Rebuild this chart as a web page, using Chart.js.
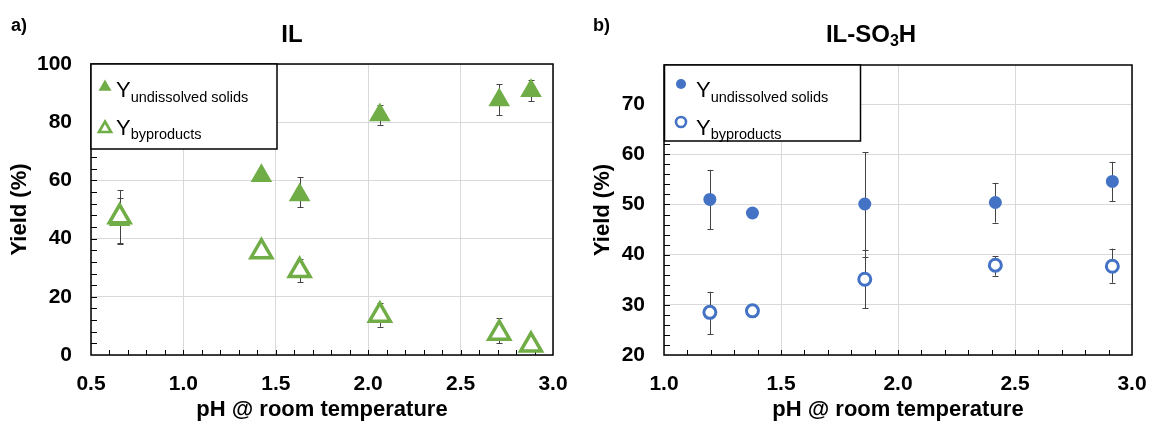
<!DOCTYPE html>
<html>
<head>
<meta charset="utf-8">
<script src="https://cdn.jsdelivr.net/npm/chart.js@4"></script>
<style>
body { margin: 0; background: #fff; }
#wrap { position: relative; width: 1149px; height: 422px; }
canvas { position: absolute; top: 0; }
</style>
</head>
<body>
<div id="wrap">
  <canvas id="chartA" width="575" height="422" style="left:0"></canvas>
  <canvas id="chartB" width="574" height="422" style="left:575px"></canvas>
</div>
<script>
// a) IL
var phIL = [0.655, 1.422, 1.629, 2.063, 2.709, 2.881];
var solidsIL = [46.5, 61.6, 55.0, 82.5, 87.6, 90.8];
var solidsILLow = [38.3, 61.6, 50.8, 79.1, 82.5, 87.3];
var solidsILHigh = [53.8, 61.6, 61.1, 85.9, 93.1, 94.5];
var byprodIL = [47.5, 35.5, 29.0, 13.7, 7.5, 3.4];
var byprodILLow = [38.6, 35.5, 25.0, 9.7, 4.0, 3.4];
var byprodILHigh = [56.7, 35.5, 33.0, 18.0, 12.6, 3.4];

// b) IL-SO3H
var phSO3H = [1.196, 1.378, 1.858, 2.416, 2.916];
var solidsSO3H = [51.0, 48.3, 50.1, 50.4, 54.6];
var solidsSO3HLow = [45.1, 48.3, 39.6, 46.4, 50.6];
var solidsSO3HHigh = [56.9, 48.3, 60.4, 54.3, 58.5];
var byprodSO3H = [28.5, 28.8, 35.1, 37.9, 37.7];
var byprodSO3HLow = [24.1, 28.8, 29.3, 35.8, 34.4];
var byprodSO3HHigh = [32.6, 28.8, 41.0, 39.7, 41.2];

var xTicksIL = [0.5, 3.0];
var yTicksIL = [0, 100];
var xTicksSO3H = [1.0, 3.0];
var yTicksSO3H = [20, 77.8];

var green = '#70ad47';
var blue = '#4472c4';
var FONT = '"Liberation Sans", Arial, sans-serif';

Chart.defaults.color = '#000';
Chart.defaults.font.family = FONT;

function pts(xs, ys) {
  return xs.map(function (x, i) { return { x: x, y: ys[i] }; });
}

function triangle(ctx, x, y, r) {
  ctx.beginPath();
  ctx.moveTo(x, y - r);
  ctx.lineTo(x + 0.866 * r, y + r / 2);
  ctx.lineTo(x - 0.866 * r, y + r / 2);
  ctx.closePath();
}

function drawSub(ctx, x, y, big, sub, bigFont, subFont, drop) {
  ctx.font = bigFont;
  ctx.fillText(big, x, y);
  var w = ctx.measureText(big).width;
  ctx.font = subFont;
  ctx.fillText(sub, x + w, y + drop);
}

var extras = {
  id: 'extras',
  beforeDatasetsDraw: function (chart, args, o) {
    var ctx = chart.ctx, a = chart.chartArea;
    var xs = chart.scales.x, ys = chart.scales.y;
    ctx.save();
    // error bars
    ctx.strokeStyle = '#444';
    ctx.lineWidth = 1;
    o.errors.forEach(function (e, di) {
      var d = chart.data.datasets[di].data;
      d.forEach(function (p, j) {
        if (e.high[j] - e.low[j] < 0.01) return;
        var px = Math.round(xs.getPixelForValue(p.x)) + 0.5;
        var y1 = ys.getPixelForValue(e.low[j]);
        var y2 = ys.getPixelForValue(e.high[j]);
        ctx.beginPath();
        ctx.moveTo(px, y1); ctx.lineTo(px, y2);
        ctx.moveTo(px - 3, Math.round(y1) + 0.5); ctx.lineTo(px + 3, Math.round(y1) + 0.5);
        ctx.moveTo(px - 3, Math.round(y2) + 0.5); ctx.lineTo(px + 3, Math.round(y2) + 0.5);
        ctx.stroke();
      });
    });
    // minor ticks
    ctx.strokeStyle = '#000';
    ctx.beginPath();
    var n = Math.round((xs.max - xs.min) / o.xMinor);
    for (var i = 1; i < n; i++) {
      var px = Math.round(xs.getPixelForValue(xs.min + i * o.xMinor)) + 0.5;
      ctx.moveTo(px, a.bottom); ctx.lineTo(px, a.bottom - 5);
    }
    var m = Math.floor((ys.max - ys.min) / o.yMinor + 0.001);
    for (var k = 1; k <= m; k++) {
      var py = Math.round(ys.getPixelForValue(ys.min + k * o.yMinor)) + 0.5;
      if (py <= a.top + 1) continue;
      ctx.moveTo(a.left, py); ctx.lineTo(a.left + 6, py);
    }
    ctx.stroke();
    // plot frame
    ctx.lineWidth = 1.5;
    ctx.strokeStyle = '#000';
    ctx.strokeRect(a.left, a.top, a.right - a.left, a.bottom - a.top);
    ctx.restore();
  },
  afterDraw: function (chart, args, o) {
    var ctx = chart.ctx;
    ctx.save();
    ctx.fillStyle = '#000';
    ctx.textBaseline = 'alphabetic';
    // panel letter
    ctx.font = 'bold 18px ' + FONT;
    ctx.textAlign = 'left';
    ctx.fillText(o.letter, o.letterX, 31);
    // title
    var big = 'bold 24px ' + FONT, small = 'bold 16px ' + FONT;
    var parts = o.title;
    var widths = parts.map(function (p) {
      ctx.font = p.sub ? small : big;
      return ctx.measureText(p.t).width;
    });
    var total = widths.reduce(function (s, w) { return s + w; }, 0);
    var tx = o.titleX - total / 2;
    parts.forEach(function (p, i) {
      ctx.font = p.sub ? small : big;
      ctx.fillText(p.t, tx, p.sub ? 46 : 42);
      tx += widths[i];
    });
    // legend box
    var L = o.legend;
    ctx.fillStyle = '#fff';
    ctx.fillRect(L.x, L.y, L.w, L.h);
    ctx.lineWidth = 1.5;
    ctx.strokeStyle = '#000';
    ctx.strokeRect(L.x, L.y, L.w, L.h);
    var col = L.color;
    if (L.shape === 'triangle') {
      triangle(ctx, L.mx, L.r1 + 1, 7.5);
      ctx.fillStyle = col; ctx.fill();
      triangle(ctx, L.mx, L.r2 + 1.5, 7);
      ctx.lineWidth = 2.6; ctx.strokeStyle = col; ctx.stroke();
    } else {
      ctx.beginPath(); ctx.arc(L.mx, L.r1, 5, 0, Math.PI * 2);
      ctx.fillStyle = col; ctx.fill();
      ctx.beginPath(); ctx.arc(L.mx, L.r2, 5, 0, Math.PI * 2);
      ctx.lineWidth = 2.6; ctx.strokeStyle = col; ctx.stroke();
    }
    ctx.fillStyle = '#000';
    var yf = '22px ' + FONT, sf = '14.5px ' + FONT;
    drawSub(ctx, L.tx, 97, 'Y', 'undissolved solids', yf, sf, 5);
    drawSub(ctx, L.tx, 135, 'Y', 'byproducts', yf, sf, 3.5);
    ctx.restore();
  }
};

function makeChart(id, opt) {
  return new Chart(document.getElementById(id), {
    type: 'scatter',
    data: {
      datasets: [
        {
          label: 'Y undissolved solids',
          data: pts(opt.xs, opt.solids),
          pointStyle: opt.shape,
          pointRadius: opt.shape === 'triangle' ? 12.5 : 6.5,
          backgroundColor: opt.color,
          borderColor: opt.color,
          borderWidth: 0,
          order: 1
        },
        {
          label: 'Y byproducts',
          data: pts(opt.xs, opt.byprod),
          pointStyle: opt.shape,
          pointRadius: opt.shape === 'triangle' ? 12 : 6,
          backgroundColor: '#fff',
          borderColor: opt.color,
          borderWidth: opt.shape === 'triangle' ? 3.5 : 3,
          order: 0
        }
      ]
    },
    options: {
      responsive: false,
      animation: false,
      events: [],
      clip: false,
      layout: { padding: { left: 0, top: opt.top, right: opt.right, bottom: 0 } },
      plugins: {
        legend: { display: false },
        tooltip: { enabled: false },
        extras: opt.extras
      },
      scales: {
        x: {
          type: 'linear',
          min: opt.xRange[0], max: opt.xRange[1],
          afterFit: function (s) { s.height = 67; s.paddingLeft = 0; s.paddingRight = 0; },
          border: { display: false },
          grid: { color: '#d9d9d9', drawTicks: false },
          ticks: {
            stepSize: 0.5, padding: 17,
            font: { size: 21, weight: 'bold' },
            callback: function (v) { return v.toFixed(1); }
          },
          title: {
            display: true, text: 'pH @ room temperature',
            font: { size: 22, weight: 'bold', lineHeight: 1 },
            padding: { top: 0, bottom: 1 }
          }
        },
        y: {
          min: opt.yRange[0], max: opt.yRange[1],
          afterFit: function (s) { s.width = opt.yWidth; },
          afterBuildTicks: function (s) {
            s.ticks = s.ticks.filter(function (t) { return Math.abs(t.value % opt.yStep) < 0.001; });
          },
          border: { display: false },
          grid: { color: '#d9d9d9', drawTicks: false },
          ticks: {
            stepSize: opt.yStep, padding: 19,
            font: { size: 21, weight: 'bold' }
          },
          title: {
            display: true, text: 'Yield (%)',
            font: { size: 22, weight: 'bold', lineHeight: 1 },
            padding: { top: opt.yTitlePad, bottom: 0 }
          }
        }
      }
    },
    plugins: [extras]
  });
}

makeChart('chartA', {
  xs: phIL, solids: solidsIL, byprod: byprodIL,
  shape: 'triangle', color: green,
  xRange: xTicksIL, yRange: yTicksIL, yStep: 20,
  top: 64, right: 22, yWidth: 91, yTitlePad: 8.5,
  extras: {
    xMinor: 0.1, yMinor: 4,
    letter: 'a)', letterX: 11,
    title: [{ t: 'IL' }], titleX: 292,
    legend: { x: 91, y: 64, w: 186, h: 85, mx: 105, r1: 86, r2: 127, tx: 116, shape: 'triangle', color: green },
    errors: [
      { low: solidsILLow, high: solidsILHigh },
      { low: byprodILLow, high: byprodILHigh }
    ]
  }
});

makeChart('chartB', {
  xs: phSO3H, solids: solidsSO3H, byprod: byprodSO3H,
  shape: 'circle', color: blue,
  xRange: xTicksSO3H, yRange: yTicksSO3H, yStep: 10,
  top: 65, right: 17, yWidth: 89, yTitlePad: 17,
  extras: {
    xMinor: 0.1, yMinor: 2,
    letter: 'b)', letterX: 18,
    title: [{ t: 'IL-SO' }, { t: '3', sub: true }, { t: 'H' }], titleX: 296,
    legend: { x: 89.5, y: 65, w: 196, h: 76, mx: 106, r1: 84, r2: 122, tx: 121, shape: 'circle', color: blue },
    errors: [
      { low: solidsSO3HLow, high: solidsSO3HHigh },
      { low: byprodSO3HLow, high: byprodSO3HHigh }
    ]
  }
});
</script>
</body>
</html>
